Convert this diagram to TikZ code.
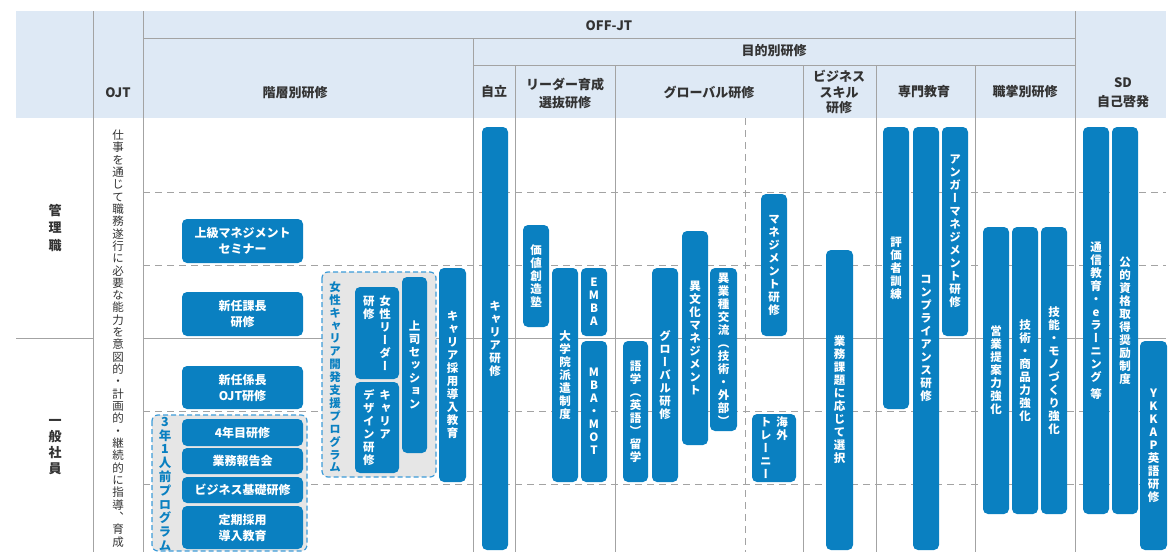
\documentclass[tikz,border=0pt]{standalone}
\usepackage{fontspec}
\setmainfont{Noto Sans CJK JP}
\newfontfamily\vjp[RawFeature=+vert]{Noto Sans CJK JP}
\definecolor{hdr}{HTML}{DEE9F5}
\definecolor{bl}{HTML}{0A80C1}
\definecolor{ln}{HTML}{A3A3A3}
\definecolor{tx}{HTML}{333333}
\definecolor{gbox}{HTML}{E6E6E6}
\definecolor{dbl}{HTML}{3C9BD8}
\newdimen\vpitch
\vpitch=13pt
\def\vgap{vgap}
\makeatletter
\def\vst@aux#1{\ifx\relax#1\else\ifx\vgap#1\kern4pt\else\hbox to 1.15em{\hss#1\hss}\fi\expandafter\vst@aux\fi}
\newcommand\vst[1]{\vtop{\baselineskip=\vpitch\lineskiplimit=-\maxdimen\lineskip=0pt\relax\vst@aux#1\relax}}
\makeatother
\newcommand\vpair[2]{\hbox{\vst{#1}\kern3pt\vst{#2}}}
\tikzset{
  bx/.style={fill=bl, rounded corners=5pt, inner sep=0pt, text=white},
  vbx/.style={bx, font={\vjp\bfseries\fontsize{11.5}{13}\selectfont\vpitch=13pt}},
  hbx/.style={bx, align=center, font={\bfseries\fontsize{12}{16}\selectfont}},
  hd/.style={text=tx, align=center, font={\bfseries\fontsize{13}{18}\selectfont}},
  grid/.style={draw=ln, line width=0.8pt},
  dgrid/.style={grid, dash pattern=on 7pt off 5pt},
  gbx/.style={fill=gbox, draw=dbl, dash pattern=on 5pt off 3pt, line width=1.2pt, rounded corners=6pt},
  blt/.style={text=bl, inner sep=0pt},
}
\newcommand\bb[7][vbx]{\node[#1,minimum width={(#5)-(#3)},minimum height={(#6)-(#4)}] (#2) at ({((#3)+(#5))/2},{((#4)+(#6))/2}) {#7};}
\begin{document}
\begin{tikzpicture}[x=1pt,y=-1pt]
\useasboundingbox (0,0) rectangle (1176,552);
% header background
\fill[hdr] (16,11) rectangle (1166,118);
% grid
\draw[grid] (93,11) -- (93,552);
\draw[grid] (143,11) -- (143,552);
\draw[grid] (143,38) -- (1075,38);
\draw[grid] (473,38) -- (473,552);
\draw[grid] (473,65) -- (1075,65);
\foreach \x in {515,615,803,876,975} \draw[grid] (\x,65) -- (\x,552);
\draw[grid] (1075,11) -- (1075,552);
\draw[dgrid] (745,118) -- (745,552);
\draw[grid] (16,338) -- (93,338);
\draw[grid] (143,338) -- (1166,338);
\foreach \y in {192,265,411,484} \draw[dgrid] (143,\y) -- (1166,\y);
% header texts
\node[hd] (hojt) at (118,93) {OJT};
\node[hd] (hkai) at (295,93) {階層別研修};
\node[hd] (hoff) at (609,26) {OFF-JT};
\node[hd] (hmok) at (774,51) {目的別研修};
\node[hd] (hjir) at (494,92) {自立};
\node[hd, font={\bfseries\fontsize{13}{18}\selectfont}] (hled) at (565,93) {リーダー育成\\選抜研修};
\node[hd] (hglo) at (709,92) {グローバル研修};
\node[hd, font={\bfseries\fontsize{13}{15.5}\selectfont}] (hbiz) at (839,92) {ビジネス\\スキル\\研修};
\node[hd] (hsen) at (924,92) {専門教育};
\node[hd] (hsho) at (1025,92) {職掌別研修};
\node[hd, font={\bfseries\fontsize{13}{19}\selectfont}] (hsd) at (1123,93) {SD\\自己啓発};
% left labels
\node[text=tx, inner sep=0pt, font={\bfseries\fontsize{13}{17}\selectfont\vpitch=17.5pt}] (kanri) at (55,228) {\vst{管理職}};
\node[text=tx, inner sep=0pt, font={\bfseries\fontsize{13}{16}\selectfont\vpitch=16pt}] (ippan) at (55,447) {\vst{一般社員}};
% OJT description
\node[text=tx, inner sep=0pt, font={\vjp\fontsize{11.5}{12.3}\selectfont\vpitch=12.33pt}] (ojtt) at (118,338.5) {\vst{仕事を通じて職務遂行に必要な能力を意図的・計画的・継続的に指導、育成}};
% gray program boxes
\draw[gbx] (152,415) rectangle (307,551);
\draw[gbx] (322,272) rectangle (436,477);
\node[blt, font={\vjp\bfseries\fontsize{12.5}{14}\selectfont\vpitch=13.8pt}] (p3) at (165,484) {\vst{3年1人前プログラム}};
\node[blt, font={\vjp\bfseries\fontsize{11.5}{13}\selectfont\vpitch=12.9pt}] (pw) at (335,377) {\vst{女性キャリア開発支援プログラム}};
% horizontal boxes
\bb[hbx]{jokyu}{182}{219}{303}{263}{上級マネジメント\\セミナー}
\bb[hbx]{kacho}{182}{292}{303}{336}{新任課長\\研修}
\bb[hbx]{kakari}{182}{366}{303}{409}{新任係長\\OJT研修}
\bb[hbx]{y4}{182}{419}{303}{446}{4年目研修}
\bb[hbx]{gyomu}{182}{448}{303}{474}{業務報告会}
\bb[hbx]{bizk}{182}{477}{303}{503}{ビジネス基礎研修}
\bb[hbx]{teiki}{182}{506}{303}{549}{定期採用\\導入教育}
% vertical boxes
\bb{wl}{355}{287}{399}{379}{\vpair{研修}{女性リーダー}}
\bb{cd}{355}{382}{399}{473}{\vpair{デザイン研修}{キャリア}}
\bb{js}{402}{277}{427}{453}{\vst{上司セッション}}
\bb{cs}{439}{268}{466}{482}{\vst{キャリア採用導入教育}}
\bb{kr}{482}{127}{508}{550}{\vst{キャリア研修}}
\bb{kc}{523}{225}{549}{327}{\vst{価値創造塾}}
\bb{dg}{552}{268}{578}{482}{\vst{大学院派遣制度}}
\bb{em}{581}{268}{607}{336}{\vst{EMBA}}
\bb{mm}{581}{341}{607}{482}{\vst{MBA・MOT}}
\bb{go}{623}{341}{648}{482}{\vst{語学（英語）留学}}
\bb{gl}{652}{268}{678}{482}{\vst{グローバル研修}}
\bb{ib}{682}{231}{708}{445}{\vst{異文化マネジメント}}
\bb{ig}{710}{268}{737}{431}{\vst{異業種交流（技術・外部）}}
\bb{mg}{761}{194}{787}{336}{\vst{マネジメント研修}}
\bb{kt}{752}{414}{796}{482}{\vpair{トレーニー}{海外}}
\bb{gk}{826}{250}{853}{550}{\vst{業務課題に応じて選択}}
\bb{hy}{883}{127}{909}{409}{\vst{評価者訓練}}
\bb{cp}{913}{127}{939}{550}{\vst{コンプライアンス研修}}
\bb{an}{942}{127}{968}{336}{\vst{アンガーマネジメント研修}}
\bb{ei}{983}{227}{1009}{514}{\vst{営業提案力強化}}
\bb{gs}{1012}{227}{1038}{514}{\vst{技術・商品力強化}}
\bb{gm}{1041}{227}{1067}{514}{\vst{技能・モノづくり強化}}
\bb{ts}{1083}{127}{1109}{514}{\vst{通信教育・eラーニング\vgap 等}}
\bb{ks}{1112}{127}{1138}{514}{\vst{公的資格取得奨励制度}}
\bb{yk}{1140}{341}{1167}{550}{\vst{YKKAP英語研修}}
\end{tikzpicture}
\end{document}
